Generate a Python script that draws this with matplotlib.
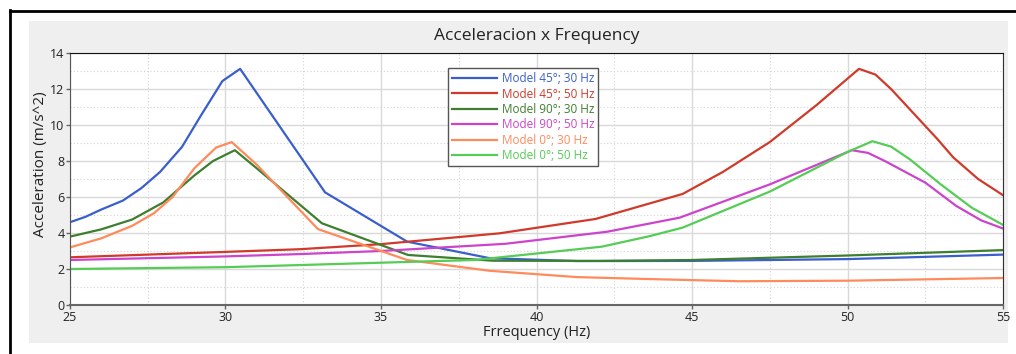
import matplotlib
matplotlib.use("Agg")
import matplotlib.pyplot as plt
from matplotlib.patches import Rectangle
from matplotlib.lines import Line2D

plt.rcParams['font.family'] = ['Open Sans', 'DejaVu Sans']

# frequency (Hz) / acceleration (m/s^2)
f_45_30 = [25, 25.5, 26, 26.7, 27.3, 27.9, 28.6, 29.2, 29.9, 30.47, 33.2, 35.84, 38.5, 41.3, 45, 50, 55]
a_45_30 = [4.6, 4.9, 5.3, 5.8, 6.5, 7.4, 8.78, 10.5, 12.44, 13.12, 6.26, 3.52, 2.6, 2.44, 2.45, 2.55, 2.8]

f_45_50 = [25, 30, 32.4, 35, 38.8, 41.9, 44.7, 46.0, 47.5, 49.0, 50.37, 50.9, 51.4, 52.9, 53.4, 54.2, 55]
a_45_50 = [2.65, 2.95, 3.1, 3.38, 3.98, 4.78, 6.17, 7.4, 9.05, 11.1, 13.12, 12.8, 12.0, 9.2, 8.2, 7.0, 6.1]

f_90_30 = [25, 26, 27, 28, 29, 29.6, 30.3, 31, 33.1, 35.87, 38.6, 42, 45, 50, 55]
a_90_30 = [3.8, 4.2, 4.75, 5.7, 7.2, 8.0, 8.6, 7.6, 4.54, 2.78, 2.46, 2.45, 2.5, 2.75, 3.05]

f_90_50 = [25, 30, 32.4, 35, 39, 42.27, 44.6, 47.5, 50.14, 50.66, 51.2, 52.5, 53.5, 54.3, 55]
a_90_50 = [2.5, 2.7, 2.83, 3.0, 3.4, 4.07, 4.85, 6.7, 8.6, 8.45, 8.0, 6.8, 5.5, 4.7, 4.25]

f_0_30 = [25, 26, 27, 27.7, 28.3, 29.0, 29.7, 30.2, 31, 32.97, 35.84, 38.5, 41.3, 43.65, 46.5, 50, 55]
a_0_30 = [3.2, 3.7, 4.4, 5.1, 6.0, 7.6, 8.75, 9.05, 7.8, 4.22, 2.5, 1.9, 1.55, 1.44, 1.32, 1.35, 1.5]

f_0_50 = [25, 30, 32.4, 35, 38, 42.1, 43.65, 44.7, 47.5, 50, 50.8, 51.4, 52.0, 53.0, 54.0, 55]
a_0_50 = [2.0, 2.1, 2.22, 2.35, 2.5, 3.24, 3.83, 4.3, 6.3, 8.5, 9.1, 8.8, 8.1, 6.7, 5.4, 4.45]

labels = ['Model 45°; 30 Hz', 'Model 45°; 50 Hz', 'Model 90°; 30 Hz',
          'Model 90°; 50 Hz', 'Model 0°; 30 Hz', 'Model 0°; 50 Hz']
colors = ['#3a5fcd', '#d03a2a', '#3d7f2f', '#cc44cc', '#ff8a5c', '#55cc55']
series = [(f_45_30, a_45_30), (f_45_50, a_45_50), (f_90_30, a_90_30),
          (f_90_50, a_90_50), (f_0_30, a_0_30), (f_0_50, a_0_50)]

fig = plt.figure(figsize=(10.16, 3.54), dpi=100, facecolor='white')

# grey panel and black frame lines
fig.add_artist(Rectangle((29 / 1016, 1 - 343 / 354), (1008 - 29) / 1016, (343 - 21) / 354,
                         transform=fig.transFigure, facecolor='#efefef', edgecolor='none', zorder=-5))
fig.add_artist(Line2D([9.5 / 1016, 9.5 / 1016], [0, 1 - 10 / 354], transform=fig.transFigure,
                      color='black', lw=2, zorder=-4))
fig.add_artist(Line2D([9.5 / 1016, 1], [1 - 10.5 / 354, 1 - 10.5 / 354], transform=fig.transFigure,
                      color='black', lw=2, zorder=-4))

ax = fig.add_axes([70 / 1016, 1 - 305 / 354, (1003 - 70) / 1016, (305 - 53) / 354])
ax.set_zorder(1)
ax.set_facecolor('white')

for (f, a), lab, c in zip(series, labels, colors):
    ax.plot(f, a, color=c, lw=1.6, label=lab)

ax.set_xlim(25, 55)
ax.set_ylim(0, 14)
ax.set_xticks(range(25, 56, 5))
ax.set_yticks(range(0, 15, 2))
ax.set_xticks([27.5, 32.5, 37.5, 42.5, 47.5, 52.5], minor=True)
ax.set_yticks([1, 3, 5, 7, 9, 11, 13], minor=True)
ax.grid(which='major', color='#d9d9d9', lw=1, ls='-')
ax.grid(which='minor', color='#d4d4d4', lw=0.8, ls=(0, (1, 2)))
ax.set_axisbelow(True)
ax.tick_params(which='major', length=3, width=1, color='#666666', labelsize=9, pad=1, labelcolor='#222222')
ax.tick_params(which='minor', length=0)

ax.spines['left'].set_color('#555555')
ax.spines['bottom'].set_color('#666666')
ax.spines['bottom'].set_linewidth(1.5)
ax.spines['top'].set_color('#111111')
ax.spines['right'].set_color('#333333')

ax.set_title('Acceleracion x Frequency', fontsize=12.5, color='#222222', pad=9)
ax.set_xlabel('Frrequency (Hz)', fontsize=10.5, color='#222222', labelpad=1)
ax.set_ylabel('Acceleration (m/s^2)', fontsize=11, color='#222222', va='center')
ax.yaxis.set_label_coords(-29 / 933, 0.56)

leg = ax.legend(loc='upper left', bbox_to_anchor=(0.405, 0.94), fontsize=8.5, frameon=True,
                fancybox=False, edgecolor='#555555', framealpha=1, handlelength=3.8,
                borderpad=0.35, labelspacing=0.2, handletextpad=0.4, borderaxespad=0)
leg.get_frame().set_linewidth(1)
for txt, c in zip(leg.get_texts(), colors):
    txt.set_color(c)

fig.savefig('out.png', dpi=100, facecolor='white')
